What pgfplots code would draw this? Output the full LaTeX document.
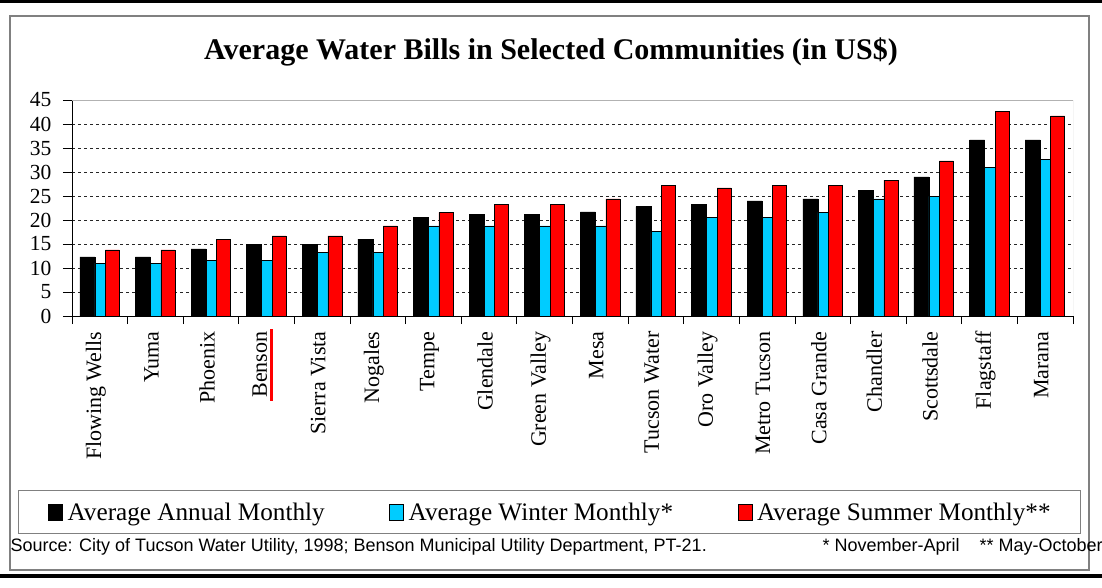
\documentclass[border=0pt]{standalone}
\usepackage{pgfplots}
\pgfplotsset{compat=1.18}
\usepackage{fontspec}
\setmainfont{Liberation Serif}
\newfontfamily\arial{Liberation Sans}
\definecolor{wcyan}{HTML}{00CCFF}
\definecolor{wred}{HTML}{FF0000}
\definecolor{framegray}{HTML}{808080}
\newcommand\redul[1]{\setbox0\hbox{#1}\rlap{\hspace{-3pt}\textcolor{red}{\rule[-6pt]{\dimexpr\wd0+6pt\relax}{3pt}}}\box0}
\begin{document}
\begin{tikzpicture}[x=1pt,y=1pt]
\path[use as bounding box] (0,0) rectangle (1102,587);
\clip (0,0) rectangle (1102,587);
\fill[white] (0,0) rectangle (1102,587);
\fill[black] (0,583.5) rectangle (1102,587);
\fill[black] (0,9) rectangle (1102,13.5);
\draw[framegray, line width=1.5pt] (10,17) rectangle (1089,571);
\node[font=\bfseries\fontsize{30}{36}\selectfont, anchor=base] at (551,527) {Average Water Bills in Selected Communities (in US\$)};
\begin{axis}[
  at={(72pt,271pt)}, anchor=south west,
  scale only axis, width=1001pt, height=216pt,
  ybar,
  legend image code/.code={\draw[#1, line width=0.6pt] (3pt,-8pt) rectangle (17pt,8pt); \path[draw=none, fill=none] (0pt,0pt) -- (19pt,0pt);},
  xmin=-0.5, xmax=17.5, ymin=0, ymax=45,
  ytick={0,5,...,45},
  xtick={0,...,17},
  minor xtick={-0.5,0.5,...,17.5},
  xticklabels={Flowing Wells, Yuma, Phoenix, \redul{Benson}, Sierra Vista, Nogales, Tempe, Glendale, Green Valley, Mesa, Tucson Water, Oro Valley, Metro Tucson, Casa Grande, Chandler, Scottsdale, Flagstaff, Marana},
  x tick label style={xshift=-4pt, yshift=-3pt, rotate=90, anchor=east, font=\fontsize{22}{24}\selectfont},
  y tick label style={xshift=-8pt, font=\fontsize{21.5}{24}\selectfont},
  /pgf/number format/assume math mode=true,
  axis lines=left,
  axis line style={-, black, line width=0.8pt},
  tick align=outside,
  major tick length=9pt, minor tick length=8pt,
  major x tick style={draw=none},
  minor x tick style={draw=black, line width=0.8pt},
  ytick style={draw=black, line width=0.8pt},
  ymajorgrids,
  major grid style={black!85, dash pattern=on 3pt off 3pt, line width=0.6pt},
  legend columns=3,
  legend style={at={(axis description cs:-0.0539,-0.806)}, anchor=north west,
    draw=framegray, line width=1.2pt, inner xsep=27pt, inner ysep=12pt,
    font=\fontsize{25.2}{28}\selectfont,
    nodes={inner xsep=3pt, inner ysep=0pt},
    /tikz/every even column/.append style={column sep=59pt}},
]
\draw[gray!60, line width=0.8pt] (rel axis cs:0,1) -- (rel axis cs:1,1) -- (rel axis cs:1,0);
\addplot[fill=black, draw=black, line width=0.5pt, bar width=15pt, bar shift=-12.5pt] coordinates {
(0,12.3) (1,12.3) (2,14.0) (3,15.0) (4,15.0) (5,16.0) (6,20.6) (7,21.1) (8,21.1)
(9,21.7) (10,22.8) (11,23.3) (12,24.0) (13,24.4) (14,26.1) (15,29.0) (16,36.7) (17,36.7)};
\addplot[fill=wcyan, draw=black, line width=0.5pt, bar width=10.5pt, bar shift=0.25pt] coordinates {
(0,11.0) (1,11.0) (2,11.6) (3,11.6) (4,13.3) (5,13.3) (6,18.8) (7,18.8) (8,18.8)
(9,18.8) (10,17.6) (11,20.6) (12,20.6) (13,21.6) (14,24.4) (15,24.9) (16,31.0) (17,32.7)};
\addplot[fill=wred, draw=black, line width=0.5pt, bar width=14pt, bar shift=12.5pt] coordinates {
(0,13.8) (1,13.8) (2,16.0) (3,16.7) (4,16.7) (5,18.8) (6,21.6) (7,23.3) (8,23.3)
(9,24.4) (10,27.2) (11,26.7) (12,27.2) (13,27.2) (14,28.3) (15,32.3) (16,42.7) (17,41.7)};
\legend{Average Annual Monthly, Average Winter Monthly*, Average Summer Monthly**}
\end{axis}
\node[anchor=base west, font=\arial\fontsize{18}{20}\selectfont] at (7,36) {Source: City of Tucson Water Utility, 1998; Benson Municipal Utility Department, PT-21.};
\node[anchor=base west, font=\arial\fontsize{18}{20}\selectfont] at (819,36) {* November-April};
\node[anchor=base west, font=\arial\fontsize{18}{20}\selectfont] at (976,36) {** May-October};
\end{tikzpicture}
\end{document}
